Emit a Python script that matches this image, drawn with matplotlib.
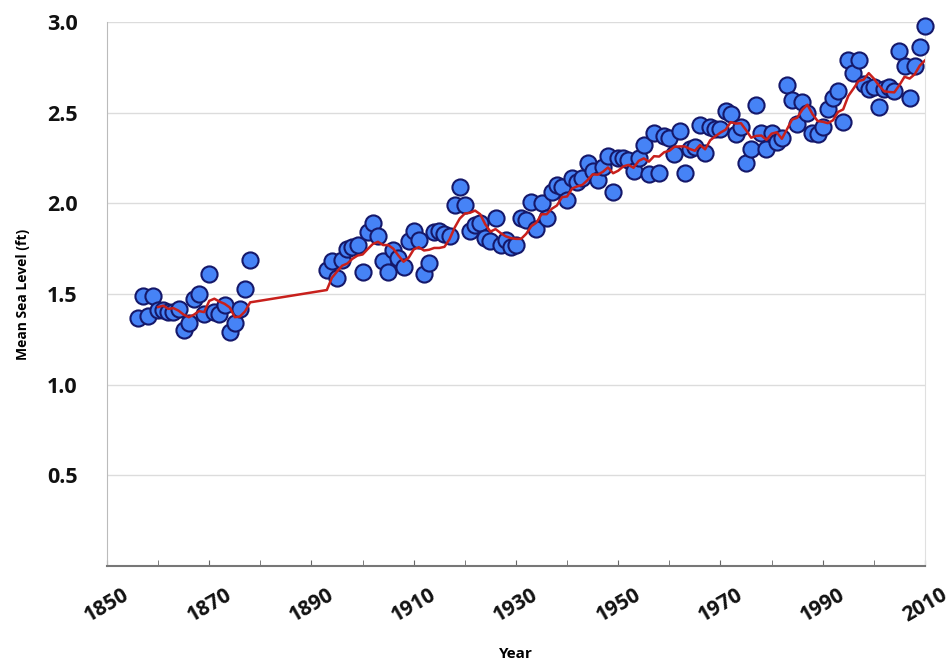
import matplotlib
matplotlib.use("Agg")
import matplotlib.pyplot as plt
import numpy as np
import pandas as pd
from matplotlib.ticker import MultipleLocator

plt.rcParams['font.family'] = ['Open Sans', 'DejaVu Sans']

# Annual mean sea level (ft); record has a gap between 1878 and 1893
years_early = list(range(1856, 1879))
level_early = [1.37, 1.49, 1.38, 1.49, 1.41, 1.41, 1.40, 1.40, 1.42, 1.30,
               1.34, 1.47, 1.50, 1.39, 1.61, 1.40, 1.39, 1.44, 1.29, 1.34,
               1.42, 1.53, 1.69]

years_late = list(range(1893, 2011))
level_late = [1.63, 1.68, 1.59, 1.69, 1.75, 1.76, 1.77, 1.62, 1.84, 1.89,
              1.82, 1.68, 1.62, 1.74, 1.70, 1.65, 1.79, 1.85, 1.80, 1.61,
              1.67, 1.84, 1.85, 1.83, 1.82, 1.99, 2.09, 1.99, 1.85, 1.88,
              1.89, 1.81, 1.79, 1.92, 1.77, 1.80, 1.76, 1.77, 1.92, 1.91,
              2.01, 1.86, 2.00, 1.92, 2.06, 2.10, 2.09, 2.02, 2.14, 2.12,
              2.14, 2.22, 2.18, 2.13, 2.20, 2.26, 2.06, 2.25, 2.25, 2.24,
              2.18, 2.25, 2.32, 2.16, 2.39, 2.17, 2.37, 2.36, 2.27, 2.40,
              2.17, 2.30, 2.31, 2.43, 2.28, 2.42, 2.41, 2.41, 2.51, 2.49,
              2.38, 2.42, 2.22, 2.30, 2.54, 2.39, 2.30, 2.39, 2.34, 2.36,
              2.65, 2.57, 2.44, 2.56, 2.50, 2.39, 2.38, 2.42, 2.52, 2.58,
              2.62, 2.45, 2.79, 2.72, 2.79, 2.66, 2.63, 2.64, 2.53, 2.63,
              2.64, 2.62, 2.84, 2.76, 2.58, 2.76, 2.86, 2.98]

year_ticks = [1850, 1870, 1890, 1910, 1930, 1950, 1970, 1990, 2010]
level_ticks = [0.5, 1.0, 1.5, 2.0, 2.5, 3.0]

years = np.array(years_early + years_late)
levels = np.array(level_early + level_late)

# 5-point trailing moving average over consecutive observations
trend = pd.Series(levels).rolling(5).mean().to_numpy()

fig = plt.figure(figsize=(9.52, 6.63), dpi=100)
ax = fig.add_axes([0.1124, 0.1463, 0.8592, 0.8205])

ax.set_xlim(1850, 2010)
ax.set_ylim(0, 3.0)

for y in level_ticks:
    ax.axhline(y, color='#dcdcdc', lw=1.0, zorder=0)

ax.scatter(years, levels, s=135, facecolor='#4683f6', edgecolor='#15186a',
           linewidth=1.5, zorder=3, clip_on=False)
ax.plot(years, trend, color='#c8201c', lw=1.8, zorder=4)

ax.set_yticks(level_ticks)
ax.set_yticklabels([f"{v:.1f}" for v in level_ticks])
ax.set_xticks(year_ticks)
ax.set_xticklabels([str(v) for v in year_ticks])
ax.xaxis.set_minor_locator(MultipleLocator(10))

for lab in ax.get_yticklabels():
    lab.set_fontsize(15.5)
    lab.set_fontweight('bold')
    lab.set_color('#111111')
for lab in ax.get_xticklabels():
    lab.set_fontsize(15)
    lab.set_fontweight('bold')
    lab.set_color('#111111')
    lab.set_rotation(30)
    lab.set_ha('center')

ax.tick_params(axis='y', length=0, pad=21)
ax.tick_params(axis='x', which='both', length=4, direction='in',
               color='#666666', pad=13)

ax.spines['top'].set_visible(False)
ax.spines['right'].set_color('#e0e0e0')
ax.spines['left'].set_color('#bbbbbb')
ax.spines['bottom'].set_color('#777777')
ax.spines['bottom'].set_linewidth(1.5)

ax.set_xlabel('Year', fontsize=11, fontweight='bold', labelpad=15)
ax.set_ylabel('Mean Sea Level (ft)', fontsize=10, fontweight='bold', labelpad=12)

fig.savefig('out.png', dpi=100, facecolor='white')
